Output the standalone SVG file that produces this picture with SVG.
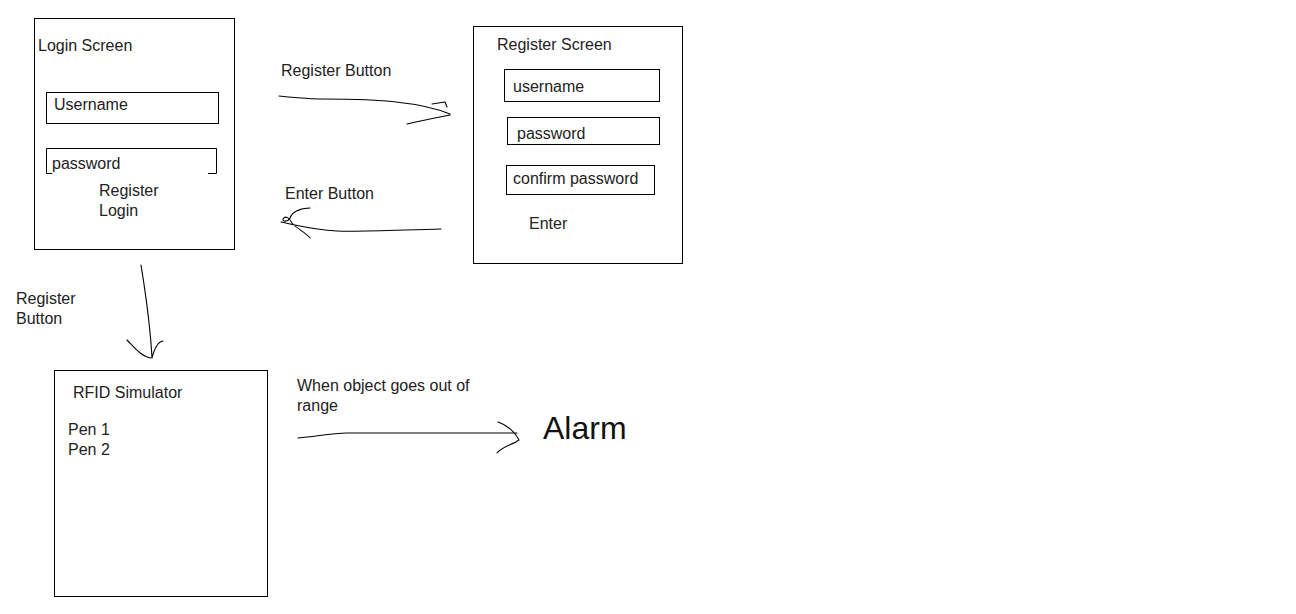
<svg xmlns="http://www.w3.org/2000/svg" width="1296" height="614" viewBox="0 0 1296 614">
<style>
.box{fill:none;stroke:#000;stroke-width:1}
.t{font-family:"Liberation Sans",Arial,sans-serif;font-size:16px;fill:#222}
.big{font-family:"Liberation Sans",Arial,sans-serif;font-size:32px;fill:#111}
.c{fill:none;stroke:#000;stroke-width:1.1;stroke-linecap:round;stroke-linejoin:round}
</style>
<rect width="1296" height="614" fill="#fff"/>
<g id="login-screen">
<rect class="box" x="34.5" y="18.5" width="200" height="231"/>
<text class="t" x="38" y="51">Login Screen</text>
<rect class="box" x="46.5" y="92.5" width="172" height="31"/>
<text class="t" x="54" y="110">Username</text>
<path class="box" d="M46.5 173.5 V148.5 H216.5 V173.5 M46.5 173.5 H52 M208 173.5 H216.5"/>
<text class="t" x="52" y="169">password</text>
<text class="t" x="99" y="196">Register</text>
<text class="t" x="99" y="216">Login</text>
</g>
<g id="register-screen">
<rect class="box" x="473.5" y="26.5" width="209" height="237"/>
<text class="t" x="497" y="50">Register Screen</text>
<rect class="box" x="504.5" y="69.5" width="155" height="32"/>
<text class="t" x="513" y="92">username</text>
<rect class="box" x="507.5" y="117.5" width="152" height="27"/>
<text class="t" x="517" y="139">password</text>
<rect class="box" x="506.5" y="165.5" width="148" height="29"/>
<text class="t" x="513" y="184">confirm password</text>
<text class="t" x="529" y="229">Enter</text>
</g>
<g id="rfid-simulator">
<rect class="box" x="54.5" y="370.5" width="213" height="226"/>
<text class="t" x="73" y="398">RFID Simulator</text>
<text class="t" x="68" y="435">Pen 1</text>
<text class="t" x="68" y="455">Pen 2</text>
</g>
<g id="alarm">
<text class="big" x="543" y="439">Alarm</text>
</g>
<g id="connectors">
<path class="c" d="M279 96 C300 98 310 99 323 99 C350 99 380 100 396 102 C415 104 435 108 450 114 M432 104 L445 102 L447 107 M450 115 C435 118 420 121 407 124"/>
<text class="t" x="281" y="76">Register Button</text>
<path class="c" d="M441 229 C400 230 360 232 337 231 C315 230 300 226 281 222 M310 208 C300 208 292 212 290 218 C288 222 282 222 283 219 C285 215 290 218 292 223 C296 228 305 232 310 238"/>
<text class="t" x="285" y="199">Enter Button</text>
<path class="c" d="M141 265 C145 290 150 320 152 358 M127 340 C135 348 142 357 151 358 M163 341 C157 342 154 350 152 358"/>
<text class="t" x="16" y="304">Register</text>
<text class="t" x="16" y="324">Button</text>
<path class="c" d="M298 438 C315 437 330 433 347 433 L517 433 M498 422 C507 425 514 431 519 440 C512 445 503 446 497 453"/>
<text class="t" x="297" y="391">When object goes out of</text>
<text class="t" x="297" y="411">range</text>
</g>
</svg>
